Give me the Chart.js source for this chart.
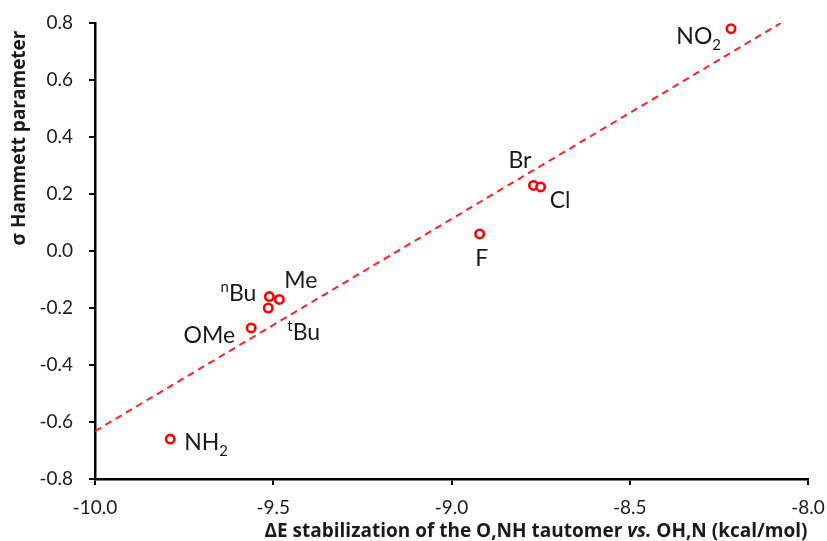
<!DOCTYPE html>
<html>
<head>
<meta charset="utf-8">
<script src="https://cdn.jsdelivr.net/npm/chart.js@4"></script>
<style>
html,body{margin:0;padding:0;background:#fff;}
#wrap{width:827px;height:541px;}
</style>
</head>
<body>
<div id="wrap"><canvas id="c" width="827" height="541"></canvas></div>
<script>
// ---- data ----
const substituents = ['NO_2', 'Br', 'Cl', 'F', 'Me', '^nBu', '^tBu', 'OMe', 'NH_2'];
const deltaE = [-8.216, -8.770, -8.750, -8.921, -9.483, -9.511, -9.514, -9.562, -9.789];
const sigma = [0.78, 0.23, 0.225, 0.06, -0.17, -0.16, -0.20, -0.27, -0.66];
const trendX = [-10.0, -8.076];
const trendY = [-0.632, 0.80];
const xTicks = [-10.0, -9.5, -9.0, -8.5, -8.0];
const yTicks = [-0.8, -0.6, -0.4, -0.2, 0.0, 0.2, 0.4, 0.6, 0.8];
const xTitleParts = [['ΔE stabilization of the O,NH tautomer ', false], ['vs.', true], [' OH,N (kcal/mol)', false]];
const yTitle = 'σ Hammett parameter';

// ---- label placement styling (offsets from point, px) ----
const labelStyle = {
  'NO_2': {dx: -10, dy: 15, align: 'right'},
  'Br':   {dx: -25, dy: -17, align: 'left'},
  'Cl':   {dx: 9, dy: 21, align: 'left'},
  'F':    {dx: 2, dy: 32, align: 'center'},
  'Me':   {dx: 5, dy: -11, align: 'left'},
  '^nBu': {dx: -13, dy: 4, align: 'right'},
  '^tBu': {dx: 19, dy: 32, align: 'left'},
  'OMe':  {dx: -16, dy: 15, align: 'right'},
  'NH_2': {dx: 14, dy: 11, align: 'left'}
};

const FONT = 'Lato, "Open Sans", sans-serif';
const TFONT = '"Open Sans", Lato, sans-serif';
const TEXT = '#1a1a1a';

function parseRich(s) {
  const parts = [];
  for (let i = 0; i < s.length; i++) {
    const ch = s[i];
    if (ch === '_' || ch === '^') { parts.push({t: s[i + 1], k: ch === '_' ? 'sub' : 'sup'}); i++; }
    else {
      if (parts.length && parts[parts.length - 1].k === 'n') parts[parts.length - 1].t += ch;
      else parts.push({t: ch, k: 'n'});
    }
  }
  return parts;
}

const labelPlugin = {
  id: 'pointLabels',
  afterDatasetsDraw(chart) {
    const ctx = chart.ctx;
    const meta = chart.getDatasetMeta(0);
    const big = 23, small = 15;
    ctx.save();
    ctx.fillStyle = TEXT;
    ctx.textBaseline = 'alphabetic';
    ctx.textAlign = 'left';
    substituents.forEach((name, i) => {
      const el = meta.data[i];
      const st = labelStyle[name];
      const parts = parseRich(name);
      let w = 0;
      parts.forEach(p => {
        ctx.font = (p.k === 'n' ? big : small) + 'px ' + FONT;
        p.w = ctx.measureText(p.t).width;
        w += p.w;
      });
      let x = el.x + st.dx;
      if (st.align === 'right') x -= w;
      else if (st.align === 'center') x -= w / 2;
      const base = el.y + st.dy;
      parts.forEach(p => {
        ctx.font = (p.k === 'n' ? big : small) + 'px ' + FONT;
        let y = base;
        if (p.k === 'sub') y = base + 6;
        if (p.k === 'sup') y = base - 9;
        ctx.fillText(p.t, x, y);
        x += p.w;
      });
    });
    ctx.restore();
  }
};

const titlePlugin = {
  id: 'axisTitles',
  afterDraw(chart) {
    const ctx = chart.ctx;
    ctx.save();
    ctx.fillStyle = TEXT;
    ctx.textBaseline = 'alphabetic';
    ctx.textAlign = 'left';
    const fs = 19;
    let total = 0;
    xTitleParts.forEach(p => {
      ctx.font = (p[1] ? 'italic ' : '') + 'bold ' + fs + 'px ' + TFONT;
      total += ctx.measureText(p[0]).width;
    });
    let x = 536 - total / 2;
    xTitleParts.forEach(p => {
      ctx.font = (p[1] ? 'italic ' : '') + 'bold ' + fs + 'px ' + TFONT;
      ctx.fillText(p[0], x, 537);
      x += ctx.measureText(p[0]).width;
    });
    ctx.translate(25, 138);
    ctx.rotate(-Math.PI / 2);
    ctx.textAlign = 'center';
    ctx.font = 'bold ' + fs + 'px ' + TFONT;
    ctx.fillText(yTitle, 0, 0);
    ctx.restore();
  }
};

const fmt = v => (Math.abs(v) < 1e-9 ? 0 : v).toFixed(1);

new Chart(document.getElementById('c'), {
  type: 'scatter',
  data: {
    datasets: [
      {
        label: 'points',
        data: deltaE.map((x, i) => ({x: x, y: sigma[i]})),
        pointStyle: 'circle',
        pointRadius: 4.2,
        pointHoverRadius: 4.2,
        pointBorderWidth: 2.6,
        pointBorderColor: '#ff0000',
        pointBackgroundColor: '#ffffff',
        showLine: false,
        order: 1
      },
      {
        label: 'trend',
        type: 'line',
        data: trendX.map((x, i) => ({x: x, y: trendY[i]})),
        borderColor: '#ff2020',
        borderWidth: 2,
        borderDash: [7, 5],
        pointRadius: 0,
        fill: false,
        order: 2
      }
    ]
  },
  options: {
    responsive: false,
    animation: false,
    events: [],
    layout: {padding: {top: 23, right: 19, left: 0, bottom: 0}},
    plugins: {legend: {display: false}, tooltip: {enabled: false}},
    scales: {
      x: {
        type: 'linear',
        min: xTicks[0], max: xTicks[xTicks.length - 1],
        afterBuildTicks: s => { s.ticks = xTicks.map(v => ({value: v})); },
        ticks: {callback: fmt, color: TEXT, font: {family: FONT, size: 19}, padding: 11, maxRotation: 0},
        grid: {drawOnChartArea: false, drawTicks: true, tickLength: 6, color: '#000', lineWidth: 2},
        border: {color: '#000', width: 2.5},
        afterFit: s => { s.height = 62; s.paddingLeft = 0; s.paddingRight = 0; }
      },
      y: {
        type: 'linear',
        min: yTicks[0], max: yTicks[yTicks.length - 1],
        afterBuildTicks: s => { s.ticks = yTicks.map(v => ({value: v})); },
        ticks: {callback: fmt, color: TEXT, font: {family: FONT, size: 19}, padding: 16},
        grid: {drawOnChartArea: false, drawTicks: true, tickLength: 6, color: '#000', lineWidth: 2},
        border: {color: '#000', width: 2.5},
        afterFit: s => { s.width = 95; s.paddingTop = 0; s.paddingBottom = 0; }
      }
    }
  },
  plugins: [labelPlugin, titlePlugin]
});
</script>
</body>
</html>
